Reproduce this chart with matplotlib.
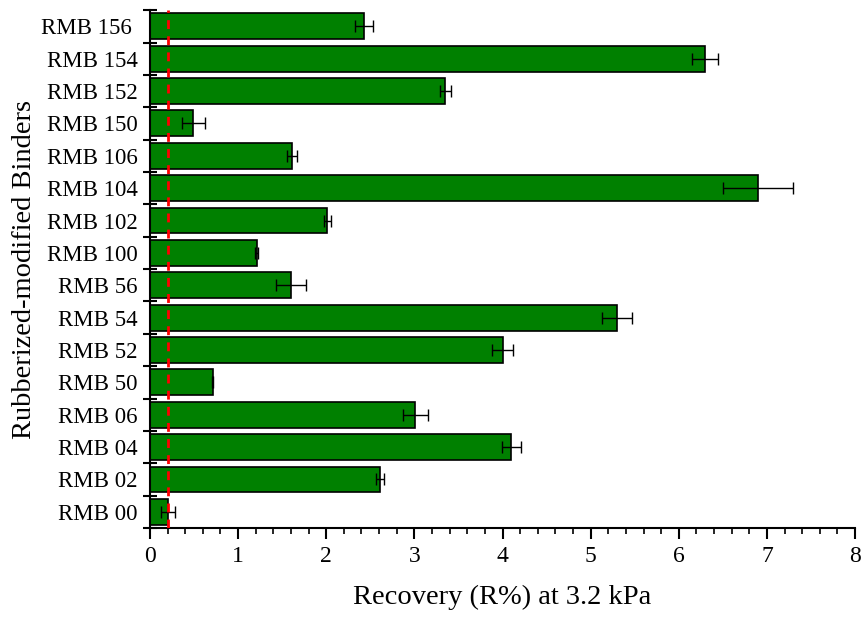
import matplotlib
matplotlib.use('Agg')
import matplotlib.pyplot as plt
import numpy as np
from matplotlib.ticker import MultipleLocator

plt.rcParams['font.family'] = ['Liberation Serif', 'DejaVu Serif']

# Binder labels, bottom to top
binders = ['RMB 00', 'RMB 02', 'RMB 04', 'RMB 06', 'RMB 50', 'RMB 52', 'RMB 54', 'RMB 56',
           'RMB 100', 'RMB 102', 'RMB 104', 'RMB 106', 'RMB 150', 'RMB 152', 'RMB 154', 'RMB 156 ']
recovery = [0.20, 2.61, 4.10, 3.01, 0.71, 4.00, 5.30, 1.60,
            1.21, 2.01, 6.90, 1.61, 0.49, 3.35, 6.30, 2.43]
recovery_err = [0.08, 0.04, 0.11, 0.14, 0.01, 0.12, 0.17, 0.17,
                0.02, 0.04, 0.40, 0.06, 0.13, 0.06, 0.15, 0.10]
threshold = 0.2

fig = plt.figure(figsize=(8.64, 6.18), dpi=100)
ax = fig.add_axes([0.1736, 0.1456, 0.816, 0.838])

y = np.arange(len(binders))
ax.barh(y, recovery, height=0.8, color='#008000', edgecolor='black', linewidth=1.2, zorder=2)
ax.errorbar(recovery, y, xerr=recovery_err, fmt='none', ecolor='black',
            elinewidth=1.0, capsize=4, capthick=1.0, zorder=3)

# threshold line
ax.axvline(threshold, color='red', linestyle=(0, (3.2, 2.6)), linewidth=2.0, zorder=4)

ax.set_xlim(0, 8)
ax.set_ylim(-0.5, len(binders) - 0.5)

ax.xaxis.set_major_locator(MultipleLocator(1))
ax.xaxis.set_minor_locator(MultipleLocator(0.2))
ax.tick_params(axis='x', which='major', direction='out', length=8, width=1.5, labelsize=17, pad=5)
ax.tick_params(axis='x', which='minor', direction='out', length=4.5, width=1.2)

# ticks sit between bars, labels centred on bars
ax.set_yticks(np.arange(len(binders) + 1) - 0.5)
ax.set_yticklabels([])
ax.set_yticks(y, minor=True)
ax.set_yticklabels(binders, minor=True)
ax.tick_params(axis='y', which='major', direction='inout', length=10, width=1.5)
ax.tick_params(axis='y', which='minor', length=0, labelsize=16.5, pad=9)

for side in ['top', 'right']:
    ax.spines[side].set_visible(False)
for side in ['left', 'bottom']:
    ax.spines[side].set_linewidth(1.5)

ax.set_xlabel('Recovery (R%) at 3.2 kPa', fontsize=20.5, labelpad=13)
ax.set_ylabel('Rubberized-modified Binders', fontsize=20.5, labelpad=3)

fig.savefig('out.png', dpi=100)
